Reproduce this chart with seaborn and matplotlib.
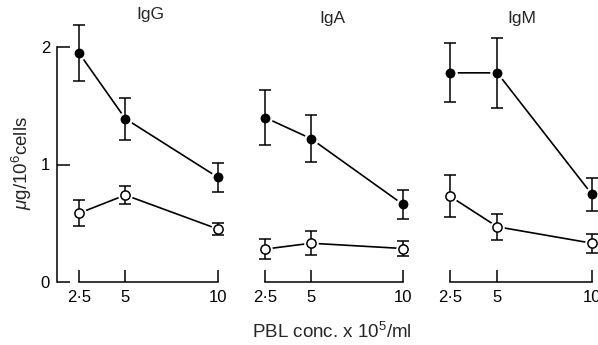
import matplotlib
matplotlib.use("Agg")
import matplotlib.pyplot as plt
import seaborn as sns
import numpy as np

# ---- data ----
conc = [2.5, 5, 10]
conc_labels = ["2·5", "5", "10"]
panels = ["IgG", "IgA", "IgM"]

igg_filled = [1.95, 1.39, 0.89]
igg_filled_err = [0.24, 0.18, 0.12]
igg_open = [0.585, 0.74, 0.45]
igg_open_err = [0.11, 0.075, 0.05]

iga_filled = [1.40, 1.22, 0.66]
iga_filled_err = [0.23, 0.20, 0.125]
iga_open = [0.28, 0.33, 0.285]
iga_open_err = [0.085, 0.10, 0.06]

igm_filled = [1.78, 1.78, 0.745]
igm_filled_err = [0.25, 0.30, 0.14]
igm_open = [0.73, 0.47, 0.33]
igm_open_err = [0.18, 0.11, 0.08]

y_ticks = [0, 1, 2]
y_tick_labels = ["0", "1", "2"]

sns.set_theme(style="ticks")
plt.rcParams["font.family"] = ["Liberation Sans", "DejaVu Sans"]
plt.rcParams["mathtext.fontset"] = "custom"
plt.rcParams["mathtext.rm"] = "Liberation Sans"
plt.rcParams["mathtext.it"] = "Liberation Sans:italic"

W, H = 598, 345
fig = plt.figure(figsize=(W / 100, H / 100), dpi=100)

ybot_px, yunit = 282.0, 117.5
ymax = 2.25
ax_bottom = (H - ybot_px) / H
ax_height = ymax * yunit / H

# (left pixel, right pixel, xlim)
geom = [
    (57.0, 227.3, (1.317, 10.5)),
    (255.8, 412.2, (2.0, 10.5)),
    (440.5, 601.5, (2.0, 10.5)),
]
data = [
    (igg_filled, igg_filled_err, igg_open, igg_open_err),
    (iga_filled, iga_filled_err, iga_open, iga_open_err),
    (igm_filled, igm_filled_err, igm_open, igm_open_err),
]

lw = 1.2
for i, ((lpx, rpx, xl), (f, fe, o, oe)) in enumerate(zip(geom, data)):
    ax = fig.add_axes([lpx / W, ax_bottom, (rpx - lpx) / W, ax_height])
    ax.set_facecolor("none")
    for vals, err, face in [(f, fe, "black"), (o, oe, "white")]:
        sns.lineplot(x=conc, y=vals, color="black", linewidth=lw, ax=ax,
                     zorder=1, legend=False)
        sns.scatterplot(x=conc, y=vals, color="white", s=110, linewidth=0,
                        ax=ax, zorder=2, legend=False)
        ax.errorbar(conc, vals, yerr=err, fmt="none", ecolor="black",
                    elinewidth=1.1, capsize=4.6, capthick=1.1, zorder=3)
        sns.scatterplot(x=conc, y=vals, color=face, edgecolor="black",
                        s=50 if face == "black" else 44,
                        linewidth=0 if face == "black" else 1.1,
                        ax=ax, zorder=4, legend=False)
    ax.set_xlim(*xl)
    ax.set_ylim(0, ymax)
    ax.set_xticks(conc)
    ax.set_xticklabels(conc_labels)
    ax.spines["top"].set_visible(False)
    ax.spines["right"].set_visible(False)
    ax.spines["bottom"].set_bounds(2.5, 10)
    ax.spines["bottom"].set_linewidth(1.1)
    ax.spines["bottom"].set_color("black")
    ax.tick_params(axis="x", direction="in", length=8.5, width=1.1,
                   pad=5.5, labelsize=12, colors="black")
    if i == 0:
        ax.spines["left"].set_bounds(0, 2)
        ax.spines["left"].set_linewidth(1.1)
        ax.spines["left"].set_color("black")
        ax.set_yticks(y_ticks)
        ax.set_yticklabels(y_tick_labels)
        ax.tick_params(axis="y", direction="in", length=9, width=1.1,
                       pad=5, labelsize=12, colors="black")
    else:
        ax.spines["left"].set_visible(False)
        ax.set_yticks([])
    ax.set_xlabel("")
    ax.set_ylabel("")

# titles
fig.text(150 / W, 1 - 19.5 / H, panels[0], ha="center", va="baseline", fontsize=12.5)
fig.text(332 / W, 1 - 23.5 / H, panels[1], ha="center", va="baseline", fontsize=12.5)
fig.text(522 / W, 1 - 23.5 / H, panels[2], ha="center", va="baseline", fontsize=12.5)

fig.text(22 / W, 1 - 163 / H, r"$\mu$g/10$^{6}$cells", rotation=90,
         ha="center", va="center", fontsize=13.5)
fig.text(332 / W, 1 - 332 / H, r"PBL conc. x 10$^{5}$/ml",
         ha="center", va="center", fontsize=13.5)

fig.savefig("out.png", dpi=100, facecolor="white")
